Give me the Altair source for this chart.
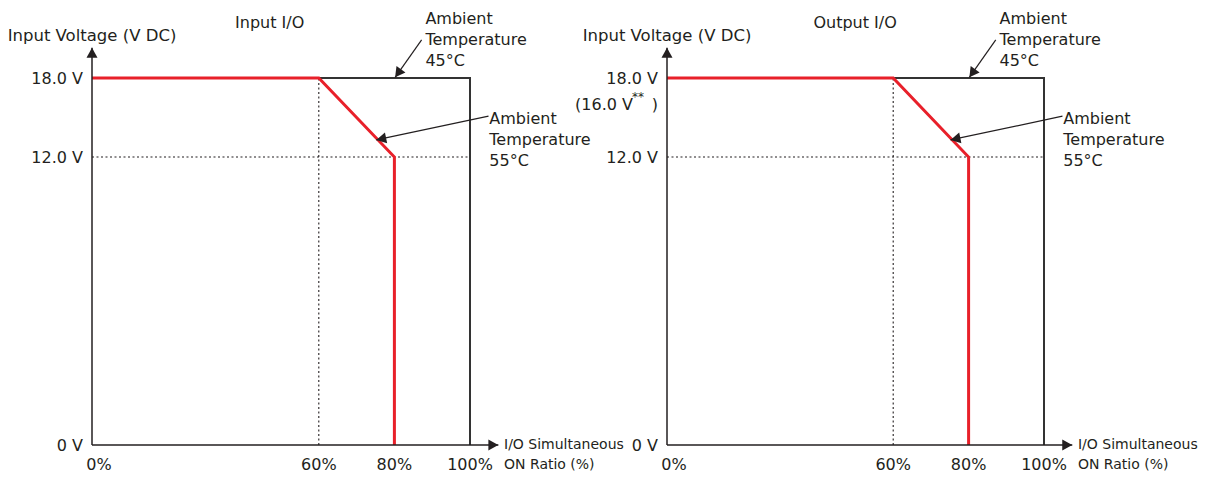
import altair as alt
import pandas as pd

FONT = "DejaVu Sans"
RED = "#e8202a"
INK = "#231f20"
FS = 16          # annotations, ticks, titles
FS_YT = 16.5     # y axis title
FS_XT = 14       # x axis title

# ---------------- data ----------------
panel_titles = ["Input I/O", "Output I/O"]
x_ticks = [0, 60, 80, 100]
x_tick_labels = ["0%", "60%", "80%", "100%"]
y_ticks = [0, 12, 18]
y_tick_labels = ["0 V", "12.0 V", "18.0 V"]
curve45_x = [0, 100, 100]
curve45_y = [18, 18, 0]
curve55_x = [0, 60, 80, 80]
curve55_y = [18, 18, 12, 0]
y_axis_title = "Input Voltage (V DC)"
x_axis_title = "I/O Simultaneous\nON Ratio (%)"
label45 = "Ambient\nTemperature\n45°C"
label55 = "Ambient\nTemperature\n55°C"
alt_max_label = "(16.0 V"
alt_max_value = 16

# annotation anchors (data units)
x_end, y_end = 107.5, 20.3
title_pos = [(47.0, 22.2), (49.9, 22.2)]
ytitle_y = 21.2
lab45_pos = (88.2, 23.1)
arr45 = (87.2, 20.9, 80.2, 18.05, 215.5)   # tail x, tail y, tip x, tip y, angle
lab55_pos = (105.1, 15.5)
arr55 = (104.9, 15.1, 75.2, 13.3, 258.4)
xtitle_pos = (109.0, 0.3)

HEAD = "M0,0L-0.55,1L0.55,1Z"

ys = alt.Scale(domain=[0, 12, 18], range=[437, 149, 70], nice=False, zero=False)


def panel(i, x_range):
    xs = alt.Scale(domain=[0, 100], range=x_range, nice=False, zero=False)

    def X(f):
        return alt.X(f, type="quantitative", scale=xs, axis=None)

    def Y(f):
        return alt.Y(f, type="quantitative", scale=ys, axis=None)

    def txt(df, **kw):
        base = dict(font=FONT, fontSize=FS, color=INK)
        base.update(kw)
        return alt.Chart(df).mark_text(**base)

    layers = []
    kx, ky = curve55_x[1], curve55_y[2]
    guides = pd.DataFrame({"x": [kx, 0], "x2": [kx, curve45_x[-1]],
                           "y": [0, ky], "y2": [curve45_y[0], ky]})
    layers.append(alt.Chart(guides).mark_rule(color=INK, strokeWidth=1.1, strokeDash=[2, 2.5]).encode(
        x=X("x"), x2=alt.X2("x2"), y=Y("y"), y2=alt.Y2("y2")))

    c45 = pd.DataFrame({"x": curve45_x, "y": curve45_y, "i": range(len(curve45_x))})
    layers.append(alt.Chart(c45).mark_line(color="#333333", strokeWidth=2).encode(
        x=X("x"), y=Y("y"), order="i:Q"))
    c55 = pd.DataFrame({"x": curve55_x, "y": curve55_y, "i": range(len(curve55_x))})
    layers.append(alt.Chart(c55).mark_line(color=RED, strokeWidth=3).encode(
        x=X("x"), y=Y("y"), order="i:Q"))

    axes = pd.DataFrame({"x": [0, 0], "x2": [x_end, 0], "y": [0, 0], "y2": [0, y_end]})
    layers.append(alt.Chart(axes).mark_rule(color=INK, strokeWidth=1.5).encode(
        x=X("x"), x2=alt.X2("x2"), y=Y("y"), y2=alt.Y2("y2")))

    arrows = pd.DataFrame({"x": [arr45[0], arr55[0]], "x2": [arr45[2], arr55[2]],
                           "y": [arr45[1], arr55[1]], "y2": [arr45[3], arr55[3]]})
    layers.append(alt.Chart(arrows).mark_rule(color=INK, strokeWidth=1.2).encode(
        x=X("x"), x2=alt.X2("x2"), y=Y("y"), y2=alt.Y2("y2")))

    heads = pd.DataFrame({"x": [0, x_end, arr45[2], arr55[2]],
                          "y": [y_end, 0, arr45[3], arr55[3]],
                          "a": [0, 90, arr45[4], arr55[4]]})
    layers.append(alt.Chart(heads).mark_point(shape=HEAD, filled=True, size=400, color=INK,
                                              opacity=1, strokeWidth=0).encode(
        x=X("x"), y=Y("y"), angle=alt.Angle("a:Q", scale=None)))

    # tick labels
    yt = pd.DataFrame({"y": y_ticks, "t": y_tick_labels, "x": [0] * len(y_ticks)})
    layers.append(txt(yt, align="right", baseline="middle", dx=-9, dy=1).encode(
        x=X("x"), y=Y("y"), text="t:N"))
    xt = pd.DataFrame({"x": x_ticks, "t": x_tick_labels, "y": [0] * len(x_ticks)})
    layers.append(txt(xt, align="center", baseline="middle", dy=20).transform_filter(
        "datum.x > 0").encode(x=X("x"), y=Y("y"), text="t:N"))
    layers.append(txt(xt, align="center", baseline="middle", dy=20, dx=7).transform_filter(
        "datum.x == 0").encode(x=X("x"), y=Y("y"), text="t:N"))

    # titles
    tt = pd.DataFrame({"x": [title_pos[i][0]], "y": [title_pos[i][1]], "t": [panel_titles[i]]})
    layers.append(txt(tt, align="center", baseline="middle").encode(
        x=X("x"), y=Y("y"), text="t:N"))
    yti = pd.DataFrame({"x": [0], "y": [ytitle_y], "t": [y_axis_title]})
    layers.append(txt(yti, fontSize=FS_YT, align="center", baseline="middle").encode(
        x=X("x"), y=Y("y"), text="t:N"))
    ann = pd.DataFrame({"x": [lab45_pos[0], lab55_pos[0]],
                        "y": [lab45_pos[1], lab55_pos[1]],
                        "t": [label45, label55]})
    layers.append(txt(ann, align="left", baseline="top", lineBreak="\n", lineHeight=21).encode(
        x=X("x"), y=Y("y"), text="t:N"))
    xti = pd.DataFrame({"x": [xtitle_pos[0]], "y": [xtitle_pos[1]], "t": [x_axis_title]})
    layers.append(txt(xti, fontSize=FS_XT, align="left", baseline="top", lineBreak="\n",
                      lineHeight=20).encode(x=X("x"), y=Y("y"), text="t:N"))

    if i == 1:
        am = pd.DataFrame({"x": [0], "y": [alt_max_value], "t": [alt_max_label],
                           "s": ["**"], "c": [")"]})
        layers.append(txt(am, align="right", baseline="middle", dx=-34, dy=1).encode(
            x=X("x"), y=Y("y"), text="t:N"))
        layers.append(txt(am, fontSize=12, align="left", baseline="middle", dx=-35, dy=-7).encode(
            x=X("x"), y=Y("y"), text="s:N"))
        layers.append(txt(am, align="right", baseline="middle", dx=-9, dy=1).encode(
            x=X("x"), y=Y("y"), text="c:N"))

    return alt.layer(*layers)


chart = alt.layer(panel(0, [84, 462]), panel(1, [659, 1036])).resolve_scale(
    x="independent"
).properties(
    width=1193, height=467, padding=0, autosize=alt.AutoSizeParams(type="none")
).configure_view(stroke=None)

chart.save("out.html", embed_options={"renderer": "svg", "actions": False})
